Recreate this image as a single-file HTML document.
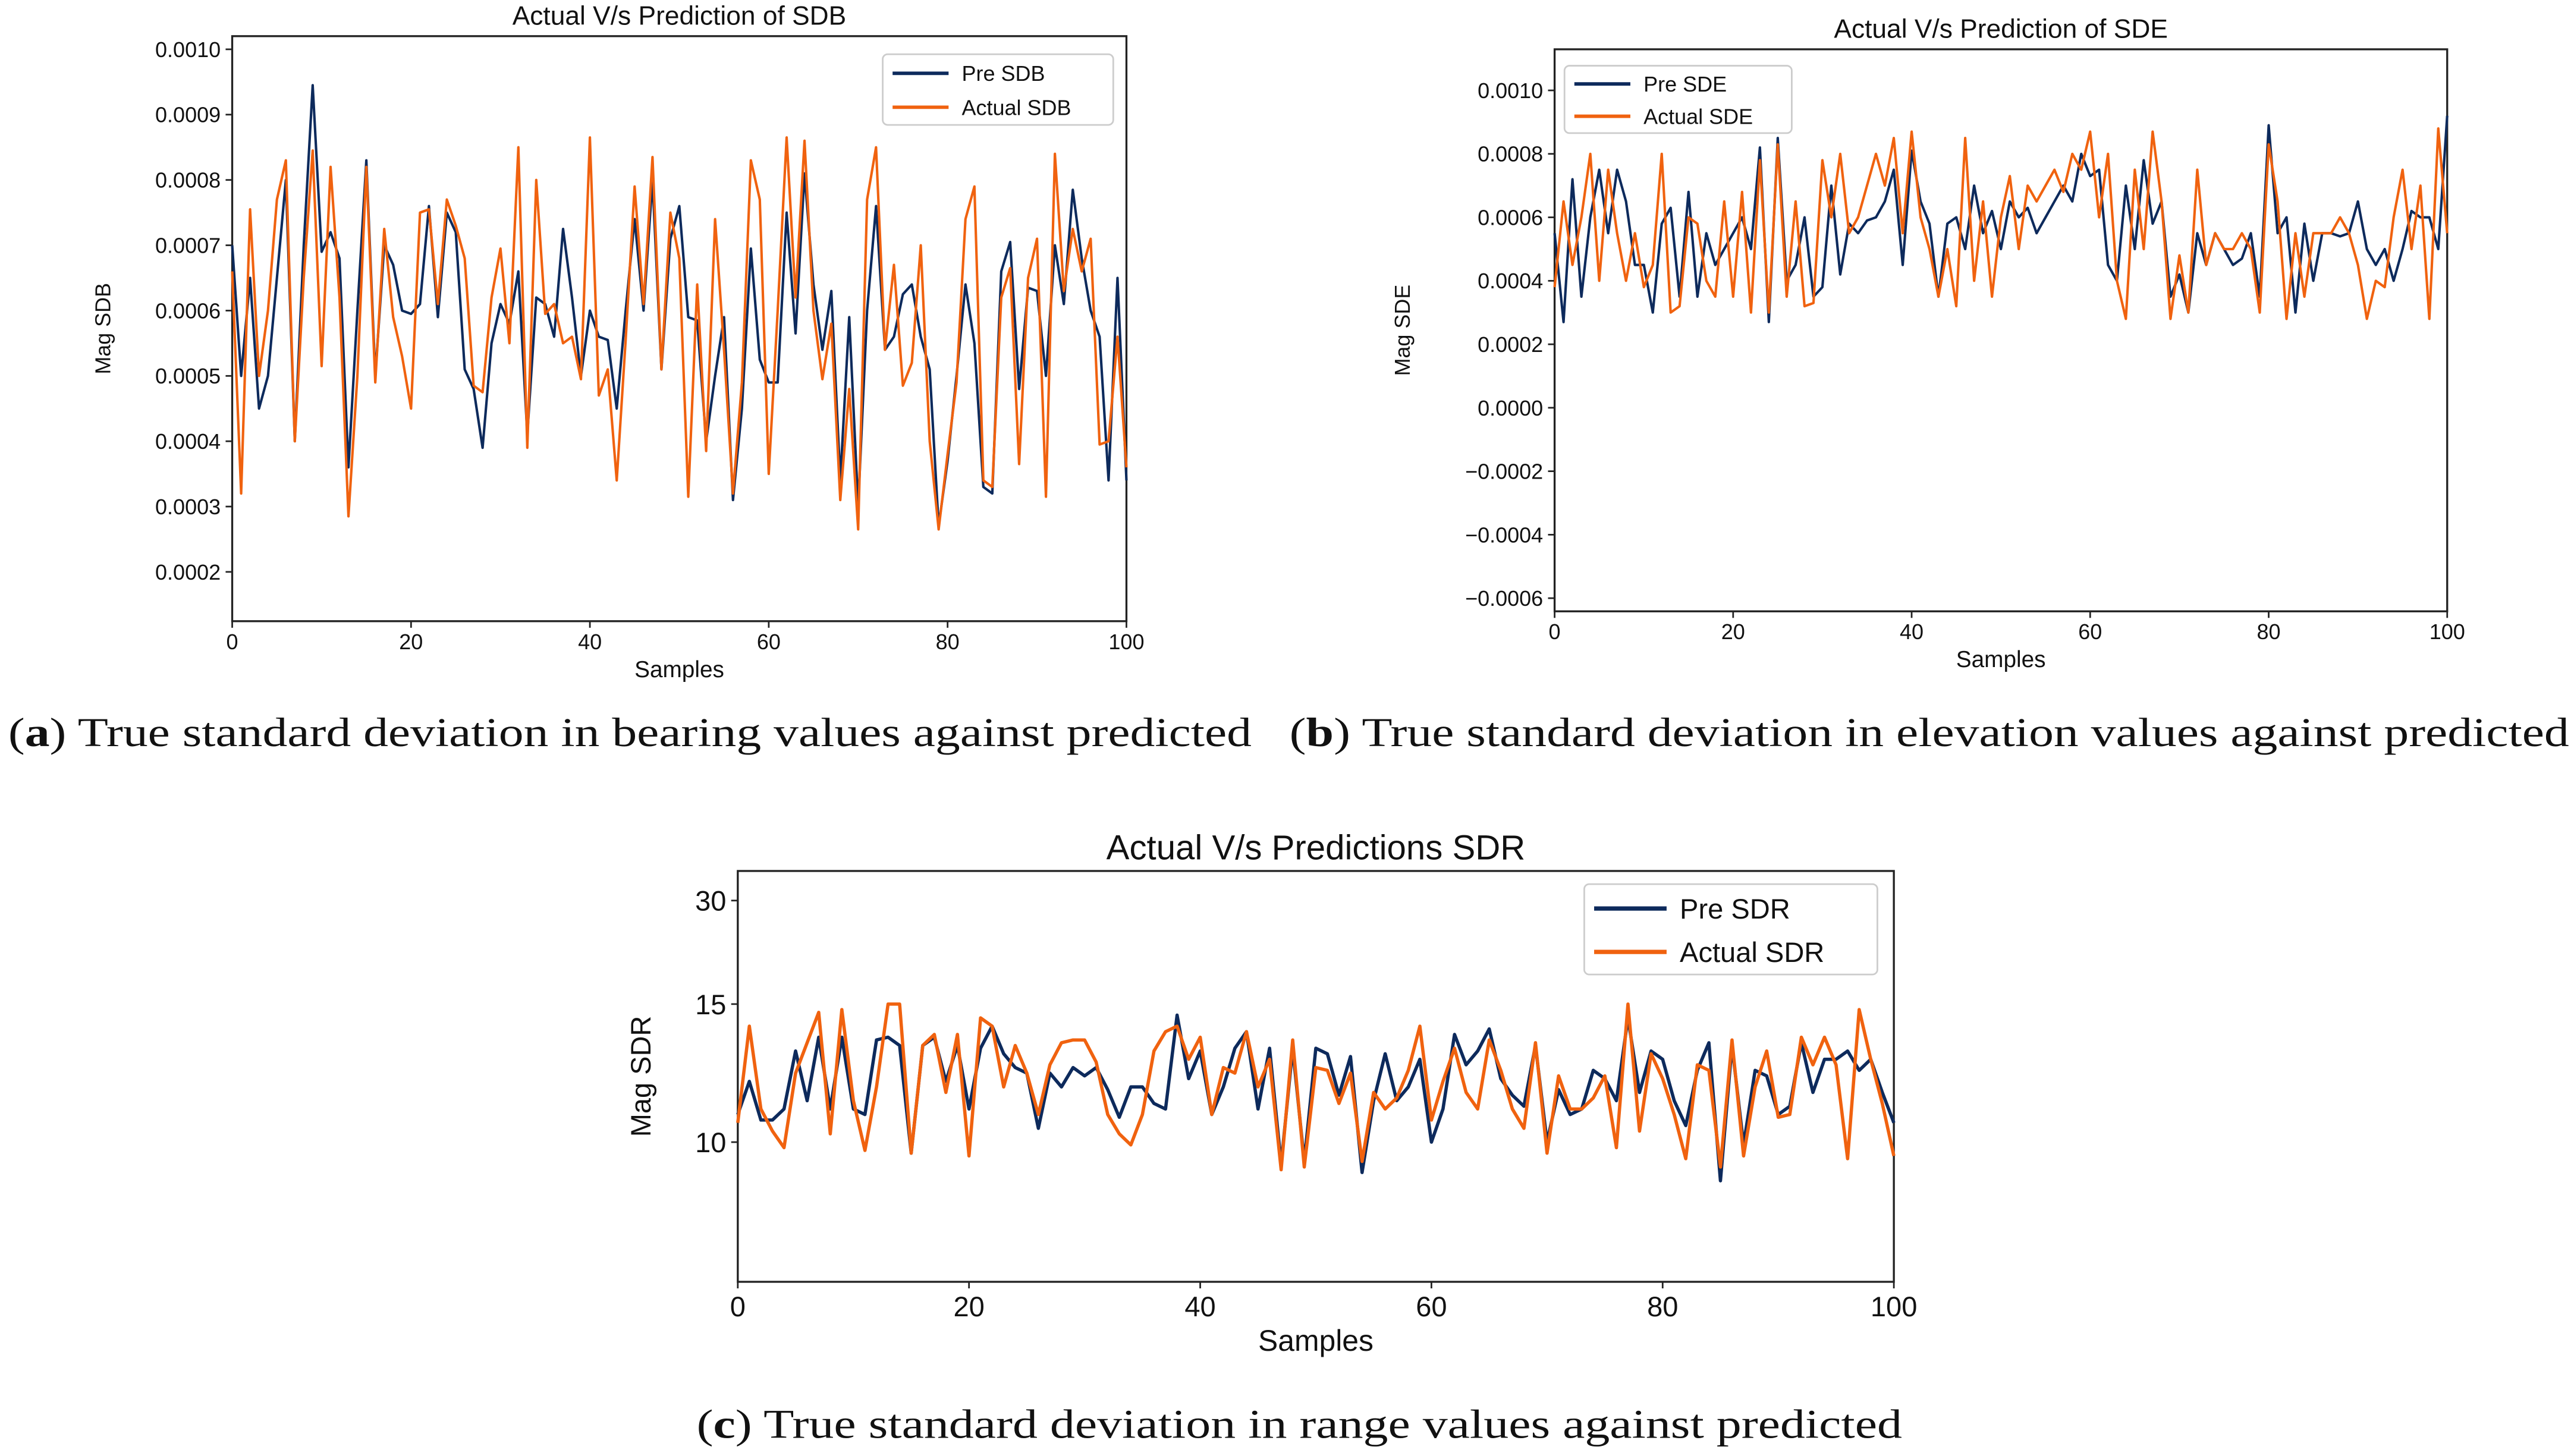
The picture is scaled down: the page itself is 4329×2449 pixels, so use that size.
<!DOCTYPE html>
<html><head><meta charset="utf-8"><style>
html,body{margin:0;padding:0;background:#fff;}
svg{display:block;}
</style></head><body>
<svg id="fig" xmlns="http://www.w3.org/2000/svg" width="4329" height="2449" viewBox="0 0 1563 886" preserveAspectRatio="none" font-family="'Liberation Sans', 'DejaVu Sans', sans-serif">
<rect x="0" y="0" width="1563" height="886" fill="#fff"/>
<text x="5" y="454" font-family="'Liberation Serif', serif" font-size="25" fill="#111" textLength="755" lengthAdjust="spacingAndGlyphs">(<tspan font-weight="bold">a</tspan>) True standard deviation in bearing values against predicted</text>
<text x="783" y="454" font-family="'Liberation Serif', serif" font-size="25" fill="#111" textLength="777" lengthAdjust="spacingAndGlyphs">(<tspan font-weight="bold">b</tspan>) True standard deviation in elevation values against predicted</text>
<text x="423" y="875" font-family="'Liberation Serif', serif" font-size="25" fill="#111" textLength="732" lengthAdjust="spacingAndGlyphs">(<tspan font-weight="bold">c</tspan>) True standard deviation in range values against predicted</text>
</svg>
<script>
const xTicksAll = [0,20,40,60,80,100];
// Chart A (values x1e-4)
const preSDB = [7.0,5.0,6.5,4.5,5.0,6.5,8.0,4.0,7.0,9.45,6.9,7.2,6.8,3.6,6.0,8.3,5.0,7.0,6.7,6.0,5.95,6.1,7.6,5.9,7.5,7.2,5.1,4.8,3.9,5.5,6.1,5.8,6.6,4.1,6.2,6.1,5.6,7.25,6.2,5.0,6.0,5.6,5.55,4.5,6.0,7.4,6.0,8.0,5.1,7.1,7.6,5.9,5.85,4.0,5.0,5.9,3.1,4.5,6.95,5.25,4.9,4.9,7.5,5.65,8.1,6.4,5.4,6.3,3.4,5.9,3.0,6.0,7.6,5.4,5.6,6.25,6.4,5.6,5.1,2.7,3.7,5.0,6.4,5.5,3.3,3.2,6.6,7.05,4.8,6.35,6.3,5.0,7.0,6.1,7.85,6.8,6.0,5.6,3.4,6.5,3.4];
const actSDB = [6.6,3.2,7.55,5.0,6.0,7.7,8.3,4.0,6.5,8.45,5.15,8.2,6.2,2.85,5.0,8.2,4.9,7.25,5.9,5.3,4.5,7.5,7.55,6.1,7.7,7.3,6.8,4.85,4.75,6.2,6.95,5.5,8.5,3.9,8.0,5.95,6.1,5.5,5.6,4.95,8.65,4.7,5.1,3.4,5.55,7.9,6.1,8.35,5.1,7.5,6.8,3.15,6.4,3.85,7.4,5.4,3.2,4.9,8.3,7.7,3.5,6.0,8.65,6.2,8.6,6.0,4.95,5.8,3.1,4.8,2.65,7.7,8.5,5.4,6.7,4.85,5.2,7.0,4.0,2.65,3.8,4.9,7.4,7.9,3.4,3.3,6.2,6.65,3.65,6.5,7.1,3.15,8.4,6.3,7.25,6.6,7.1,3.95,4.0,5.6,3.6];
const ticksA = ["0.0002","0.0003","0.0004","0.0005","0.0006","0.0007","0.0008","0.0009","0.0010"];
const tickValsA = [2,3,4,5,6,7,8,9,10];
// Chart B (values x1e-4)
const preSDE = [5.5,2.7,7.2,3.5,6.0,7.5,5.5,7.5,6.5,4.5,4.5,3.0,5.8,6.3,3.5,6.8,3.5,5.5,4.5,5.0,5.5,6.0,5.0,8.2,2.7,8.5,4.0,4.5,6.0,3.5,3.8,7.0,4.2,5.8,5.5,5.9,6.0,6.5,7.5,4.5,8.1,6.5,5.8,3.5,5.8,6.0,5.0,7.0,5.5,6.2,5.0,6.5,6.0,6.3,5.5,6.0,6.5,7.0,6.5,8.0,7.3,7.5,4.5,4.0,7.0,5.0,7.8,5.8,6.5,3.5,4.2,3.0,5.5,4.5,5.5,5.0,4.5,4.7,5.5,3.5,8.9,5.5,6.0,3.0,5.8,4.0,5.5,5.5,5.4,5.5,6.5,5.0,4.5,5.0,4.0,5.0,6.2,6.0,6.0,5.0,9.2];
const actSDE = [3.8,6.5,4.5,6.0,8.0,4.0,7.5,5.5,4.0,5.5,3.8,4.5,8.0,3.0,3.2,6.0,5.8,4.0,3.5,6.5,3.5,6.8,3.0,7.8,3.0,8.3,3.5,6.5,3.2,3.3,7.8,6.0,8.0,5.5,6.0,7.0,8.0,7.0,8.5,5.5,8.7,6.0,5.0,3.5,5.0,3.2,8.5,4.0,6.5,3.5,6.0,7.3,5.0,7.0,6.5,7.0,7.5,6.8,8.0,7.5,8.7,6.0,8.0,4.0,2.8,7.5,5.0,8.7,6.5,2.8,4.8,3.0,7.5,4.5,5.5,5.0,5.0,5.5,5.0,3.0,8.3,6.5,2.8,5.5,3.5,5.5,5.5,5.5,6.0,5.5,4.5,2.8,4.0,3.8,6.0,7.5,5.0,7.0,2.8,8.8,5.5];
const ticksB = ["\u22120.0006","\u22120.0004","\u22120.0002","0.0000","0.0002","0.0004","0.0006","0.0008","0.0010"];
const tickValsB = [-6,-4,-2,0,2,4,6,8,10];
// Chart C
const preSDR = [11.0,12.2,10.8,10.8,11.2,13.3,11.5,13.8,11.2,13.8,11.2,11.0,13.7,13.8,13.5,9.6,13.5,13.8,12.2,13.5,11.2,13.4,14.2,13.2,12.7,12.5,10.5,12.5,12.0,12.7,12.4,12.7,11.9,10.9,12.0,12.0,11.4,11.2,14.6,12.3,13.3,11.0,12.0,13.4,14.0,11.2,13.4,9.2,13.4,9.3,13.4,13.2,11.7,13.1,8.9,11.5,13.2,11.5,12.0,13.0,10.0,11.2,13.9,12.8,13.3,14.1,12.3,11.7,11.3,13.5,10.0,11.9,11.0,11.2,12.6,12.3,11.5,14.5,11.8,13.3,13.0,11.5,10.6,12.6,13.6,8.6,13.5,9.9,12.6,12.4,11.0,11.3,13.6,11.8,13.0,13.0,13.3,12.6,13.0,11.8,10.7];
const actSDR = [10.7,14.2,11.2,10.4,9.8,12.5,13.6,14.7,10.3,14.8,11.5,9.7,12.0,15.0,15.0,9.6,13.5,13.9,11.8,13.9,9.5,14.5,14.2,12.0,13.5,12.5,11.0,12.8,13.6,13.7,13.7,12.9,11.0,10.3,9.9,11.0,13.3,14.0,14.2,13.0,13.8,11.0,12.7,12.5,14.0,12.0,13.0,9.0,13.7,9.1,12.7,12.6,11.4,12.5,9.3,11.8,11.2,11.6,12.6,14.2,10.8,12.2,13.4,11.8,11.2,13.7,12.6,11.2,10.5,13.6,9.6,12.4,11.2,11.2,11.6,12.4,9.8,15.0,10.4,13.2,12.3,11.0,9.4,12.8,12.6,9.1,13.7,9.5,12.0,13.3,10.9,11.0,13.8,12.8,13.8,12.8,9.4,14.8,13.0,11.4,9.5];
const ticksC = ["10","15"];
const tickValsC = [10,15];

const NS = "http://www.w3.org/2000/svg";
const svg = document.getElementById('fig');
function el(tag, attrs, parent){const e=document.createElementNS(NS,tag);for(const k in attrs)e.setAttribute(k,attrs[k]);(parent||svg).appendChild(e);return e;}

function drawChart(cfg){
  const g = el('g',{});
  
  
  const xS = v => cfg.x0 + (v - 0) / 100 * (cfg.x1 - cfg.x0);
  const yS = v => cfg.yA + (v - cfg.vA) / (cfg.vB - cfg.vA) * (cfg.yB - cfg.yA);
  const frame = el('rect',{x:cfg.x0,y:cfg.top,width:cfg.x1-cfg.x0,height:cfg.bot-cfg.top,fill:'none',stroke:'#222','stroke-width':1.2},g);
  
  
  const title = el('text',{x:(cfg.x0+cfg.x1)/2,y:cfg.top-7,'text-anchor':'middle','font-size':cfg.tfs,fill:'#111'},g);
  title.textContent = cfg.title;
  
  
  xTicksAll.forEach(t=>{
    const x = xS(t);
    el('line',{x1:x,x2:x,y1:cfg.bot,y2:cfg.bot+4,stroke:'#222','stroke-width':1},g);
    const lb = el('text',{x:x,y:cfg.bot+cfg.fs+4,'text-anchor':'middle','font-size':cfg.fs,fill:'#111'},g);
    lb.textContent = t;
    
    
  });
  cfg.tickVals.forEach((t,i)=>{
    const y = yS(t);
    el('line',{x1:cfg.x0-4,x2:cfg.x0,y1:y,y2:y,stroke:'#222','stroke-width':1},g);
    const lb = el('text',{x:cfg.x0-7,y:y+cfg.fs*0.36,'text-anchor':'end','font-size':cfg.fs,fill:'#111'},g);
    lb.textContent = cfg.tickLabels[i];
    
    
  });
  const xl = el('text',{x:(cfg.x0+cfg.x1)/2,y:cfg.bot+cfg.fs*2+8,'text-anchor':'middle','font-size':cfg.fs+1,fill:'#111'},g);
  xl.textContent = 'Samples';
  
  
  const yl = el('text',{x:0,y:0,'text-anchor':'middle','font-size':cfg.fs,fill:'#111',transform:`translate(${cfg.ylx},${(cfg.top+cfg.bot)/2}) rotate(-90)`},g);
  yl.textContent = cfg.ylabel;
  
  
  const mk = arr => arr.map((v,i)=>(i?'L':'M')+xS(i*100/(arr.length-1)).toFixed(2)+','+yS(v).toFixed(2)).join('');
  const p1 = el('path',{d:mk(cfg.pre),fill:'none',stroke:'#0d2a5c','stroke-width':cfg.lw,'stroke-linejoin':'round'},g);
  
  
  const p2 = el('path',{d:mk(cfg.act),fill:'none',stroke:'#f0620f','stroke-width':cfg.lw,'stroke-linejoin':'round'},g);
  
  
  const L = cfg.leg;
  const lg = el('g',{},g);
  
  
  el('rect',{x:L.x,y:L.y,width:L.w,height:L.h,rx:3,fill:'#fff',stroke:'#ccc','stroke-width':1},lg);
  [[cfg.names[0],'#0d2a5c'],[cfg.names[1],'#f0620f']].forEach((n,i)=>{
    const yy = L.y + L.h*(0.27+0.48*i);
    el('line',{x1:L.x+6,x2:L.x+6+L.lw,y1:yy,y2:yy,stroke:n[1],'stroke-width':cfg.lw+0.6},lg);
    const t = el('text',{x:L.x+14+L.lw,y:yy+L.fs*0.36,'font-size':L.fs,fill:'#111'},lg);
    t.textContent = n[0];
    
    
  });
  return {yS};
}

drawChart({id:'sdb',x0:141,x1:684,top:22,bot:378,yA:348,vA:2,yB:30,vB:10,tickVals:tickValsA,tickLabels:ticksA,
  title:'Actual V/s Prediction of SDB',ylabel:'Mag SDB',ylx:67,fs:13,tfs:16,lw:1.5,pre:preSDB,act:actSDB,
  names:['Pre SDB','Actual SDB'],leg:{x:536,y:33,w:140,h:43,lw:34,fs:13}});
drawChart({id:'sde',x0:944,x1:1486,top:30,bot:372,yA:364,vA:-6,yB:55,vB:10,tickVals:tickValsB,tickLabels:ticksB,
  title:'Actual V/s Prediction of SDE',ylabel:'Mag SDE',ylx:856,fs:13,tfs:16,lw:1.5,pre:preSDE,act:actSDE,
  names:['Pre SDE','Actual SDE'],leg:{x:950,y:40,w:138,h:41,lw:34,fs:13}});
const c = drawChart({id:'sdr',x0:448,x1:1150,top:530,bot:780,yA:695,vA:10,yB:611,vB:15,tickVals:tickValsC,tickLabels:ticksC,
  title:'Actual V/s Predictions SDR',ylabel:'Mag SDR',ylx:395,fs:17,tfs:21,lw:2,pre:preSDR,act:actSDR,
  names:['Pre SDR','Actual SDR'],leg:{x:962,y:538,w:178,h:55,lw:44,fs:17}});
// extra top tick "30" on SDR axis
el('line',{x1:444,x2:448,y1:548,y2:548,stroke:'#222','stroke-width':1});
const t30 = el('text',{x:441,y:554,'text-anchor':'end','font-size':17,fill:'#111'});
t30.textContent = '30';


</script>
</body></html>
